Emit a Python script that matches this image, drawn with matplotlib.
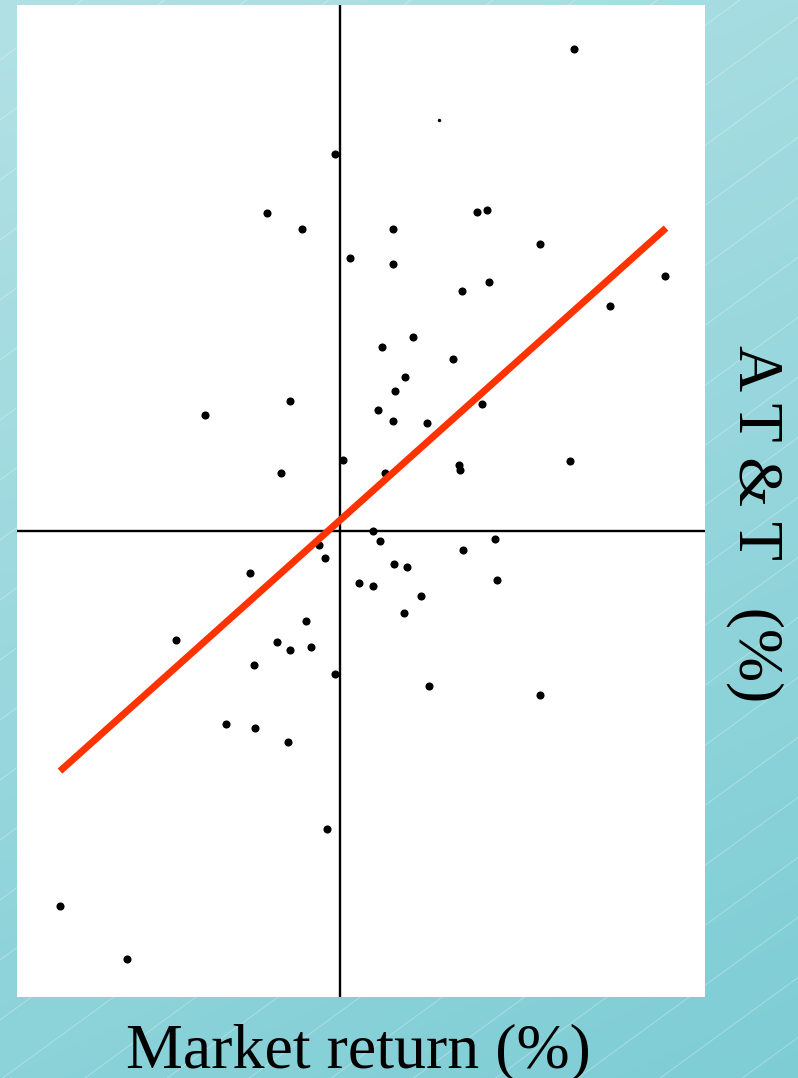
import numpy as np
import matplotlib.pyplot as plt

# market return (%) vs AT&T return (%)
market = [5.85, -0.13, -1.83, -0.95, 1.33, 0.25, 1.33, 3.43, 3.68, 5.00,
          3.73, 3.05, 8.13, 6.75, 1.83, 1.05, 2.83, 1.63, 1.38, 0.95,
          1.33, 2.18, 3.55, -1.25, -3.38, 0.08, -1.48, 5.75, 2.98, 3.00,
          1.13, 0.83, 1.00, 3.88, 3.08, 1.35, 1.68, 0.48, 0.83, 3.93,
          2.03, 1.60, 2.23, 5.00, -0.53, -0.38, -2.25, -0.85, -4.10, -1.58,
          -1.25, -0.73, -2.15, -0.13, -2.85, -2.13, -1.30, -0.33, -7.00, -5.33]
att = [12.05, 9.43, 7.95, 7.55, 7.55, 6.83, 6.68, 7.98, 8.03, 7.18,
       6.23, 6.00, 6.38, 5.63, 4.85, 4.60, 4.30, 3.85, 3.50, 3.03,
       2.75, 2.70, 3.18, 3.25, 2.90, 1.78, 1.45, 1.75, 1.65, 1.53,
       1.45, 0.00, -0.25, -0.20, -0.48, -0.83, -0.90, -1.30, -1.38, -1.23,
       -1.63, -2.05, -3.88, -4.10, -0.35, -0.68, -1.05, -2.25, -2.73, -2.78,
       -2.98, -2.90, -3.35, -3.58, -4.83, -4.93, -5.28, -7.45, -9.38, -10.70]
# one faint speck
small_x = [2.48]
small_y = [10.28]

# fitted line y = alpha + beta * x
alpha = 0.27
beta = 0.896
fit_x = [-7.0, 8.15]

fig = plt.figure(figsize=(7.98, 10.78), dpi=100)

# teal gradient background with faint diagonal lines
bg = fig.add_axes([0, 0, 1, 1])
h, w = 1078, 798
yy, xx = np.mgrid[0:h, 0:w]
t = 0.75 * yy / h + 0.25 * xx / w
top = np.array([178, 225, 229]) / 255
bot = np.array([126, 205, 213]) / 255
img = top[None, None, :] * (1 - t[..., None]) + bot[None, None, :] * t[..., None]
bg.imshow(img, extent=[0, w, h, 0], aspect='auto')
for c in np.arange(0, 2000, 60):
    bg.plot([0, w], [c, c - 0.73 * w], color='white', lw=0.7, alpha=0.3)
bg.set_xlim(0, w)
bg.set_ylim(h, 0)
bg.axis('off')

ax = fig.add_axes([17 / 798, 81 / 1078, 688 / 798, 992 / 1078])
ax.set_facecolor('white')
ax.axhline(0, color='black', lw=1.7, zorder=1)
ax.axvline(0, color='black', lw=1.7, zorder=1)
ax.scatter(market, att, s=34, color='black', zorder=2, linewidths=0)
ax.scatter(small_x, small_y, s=6, color='black', zorder=2, linewidths=0)
fx = np.array(fit_x)
ax.plot(fx, alpha + beta * fx, color='#ff3300', lw=5, solid_capstyle='butt', zorder=3)
ax.set_xlim(-8.075, 9.125)
ax.set_ylim(-11.65, 13.15)
ax.set_xticks([])
ax.set_yticks([])
for s in ax.spines.values():
    s.set_visible(False)

fig.text(358 / 798, 1 - 1052 / 1078, 'Market return (%)', family='Liberation Serif',
         fontsize=46, ha='center', va='center')
fig.text(755 / 798, 1 - 524 / 1078, 'A T & T   (%)', family='Liberation Serif',
         fontsize=46, ha='center', va='center', rotation=270)

fig.savefig('out.png', dpi=100)
